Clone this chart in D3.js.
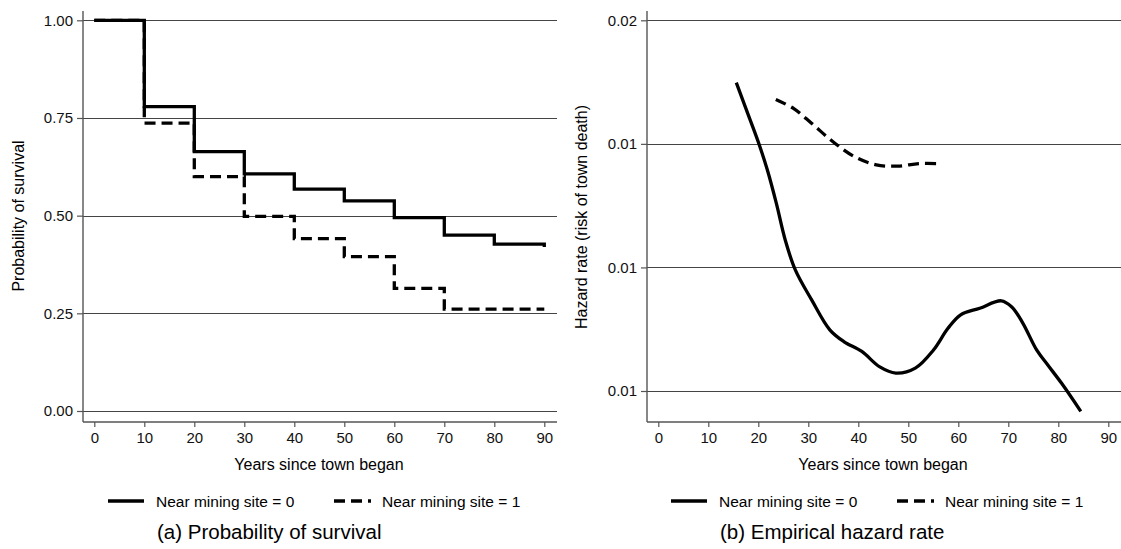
<!DOCTYPE html>
<html>
<head>
<meta charset="utf-8">
<script src="https://cdn.jsdelivr.net/npm/d3@7"></script>
<style>
  body { margin: 0; background: #fff; }
  svg { display: block; font-family: "Liberation Sans", Arial, sans-serif; }
  .grid { stroke: #444; stroke-width: 1; }
  .axisline { stroke: #555; stroke-width: 1.4; }
  .tick line { stroke: #555; stroke-width: 1.2; }
  .tick text { font-size: 15px; fill: #111; }
</style>
</head>
<body>
<div id="chart"></div>
<script>
// tick labels
var yearTicks = [0, 10, 20, 30, 40, 50, 60, 70, 80, 90]
var survTicks = [0, 0.25, 0.5, 0.75, 1]
var hazTicks = [0.010, 0.012, 0.014, 0.016]

// (a) Kaplan-Meier survival, by group
var survTime0 = [0, 10, 20, 30, 40, 50, 60, 70, 80, 90]
var survProb0 = [1.00, 0.779, 0.664, 0.607, 0.568, 0.538, 0.495, 0.450, 0.427, 0.420]
var survTime1 = [0, 10, 20, 30, 40, 50, 60, 70, 90]
var survProb1 = [1.00, 0.737, 0.600, 0.498, 0.441, 0.395, 0.314, 0.261, 0.261]

// (b) smoothed hazard, by group
var hazTime0 = [15.6, 17.9, 20.0, 21.8, 23.6, 25.4, 27.4, 30.7, 34.3, 37.1, 40.7, 44.3, 47.5,
                51.4, 55.0, 57.9, 60.4, 64.3, 68.6, 70.7, 72.9, 75.7, 77.9, 80.7, 84.5]
var hazRate0 = [0.01499, 0.01449, 0.01403, 0.01358, 0.01304, 0.01244, 0.01196, 0.01147, 0.01099,
                0.01080, 0.01064, 0.01039, 0.01029, 0.01037, 0.01066, 0.01101, 0.01123, 0.01134,
                0.01146, 0.01136, 0.01110, 0.01066, 0.01042, 0.01012, 0.00967]
var hazTime1 = [23.5, 27.1, 30.7, 35.0, 39.3, 43.6, 47.9, 52.1, 56.1]
var hazRate1 = [0.01472, 0.01457, 0.01433, 0.01403, 0.01379, 0.01366, 0.01364, 0.01368, 0.01368]

var legendLabels = ['Near mining site = 0', 'Near mining site = 1']

var W = 1121, H = 549
var svg = d3.select('#chart').append('svg').attr('width', W).attr('height', H)

function zip(a, b){ return a.map(function(d, i){ return [d, b[i]] }) }

function panel(o){
  var g = svg.append('g')
  var x = d3.scaleLinear().domain([0, 90]).range(o.xr)
  var y = d3.scaleLinear().domain(o.ydom).range(o.yr)

  // gridlines
  g.selectAll('line.grid').data(o.yticks).join('line')
    .attr('class', 'grid')
    .attr('x1', o.left).attr('x2', o.right)
    .attr('y1', function(d){ return Math.round(y(d)) + 0.5 })
    .attr('y2', function(d){ return Math.round(y(d)) + 0.5 })

  var ya = g.append('g').attr('transform', 'translate(' + o.left + ',0)')
    .call(d3.axisLeft(y).tickValues(o.yticks).tickFormat(o.yfmt).tickSize(6).tickPadding(4))
  ya.select('.domain').remove()

  var xa = g.append('g').attr('transform', 'translate(0,' + o.bottom + ')')
    .call(d3.axisBottom(x).tickValues(yearTicks).tickSize(5).tickPadding(5))
  xa.select('.domain').remove()

  g.append('line').attr('class', 'axisline')
    .attr('x1', o.left).attr('x2', o.left).attr('y1', o.top).attr('y2', o.bottom)
  g.append('line').attr('class', 'axisline')
    .attr('x1', o.left).attr('x2', o.right).attr('y1', o.bottom).attr('y2', o.bottom)

  var line = d3.line().x(function(d){ return x(d[0]) }).y(function(d){ return y(d[1]) }).curve(o.curve)

  g.append('path').attr('d', line(o.s0))
    .attr('fill', 'none').attr('stroke', '#000').attr('stroke-width', 3.3)
    .attr('stroke-linejoin', 'miter').attr('stroke-linecap', 'butt')
  g.append('path').attr('d', line(o.s1))
    .attr('fill', 'none').attr('stroke', '#000').attr('stroke-width', 3.3)
    .attr('stroke-dasharray', '11,6')

  // titles
  g.append('text').attr('x', o.xtitleX).attr('y', 470)
    .attr('text-anchor', 'middle').style('font-size', '16px').text('Years since town began')
  g.append('text')
    .attr('transform', 'translate(' + o.ytitleX + ',' + o.ytitleY + ') rotate(-90)')
    .attr('text-anchor', 'middle').style('font-size', '16px').text(o.ytitle)

  // legend
  var lg = g.append('g').attr('transform', 'translate(' + o.legX + ',501)')
  lg.append('line').attr('x1', 0).attr('x2', 36).attr('stroke', '#000').attr('stroke-width', 3.5)
  lg.append('text').attr('x', 48).attr('y', 6).style('font-size', '15.5px').text(legendLabels[0])
  lg.append('line').attr('x1', 226).attr('x2', 263).attr('stroke', '#000').attr('stroke-width', 3.5)
    .attr('stroke-dasharray', '11,6')
  lg.append('text').attr('x', 274).attr('y', 6).style('font-size', '15.5px').text(legendLabels[1])

  g.append('text').attr('x', o.legX + 49).attr('y', 539)
    .style('font-size', '20.5px').text(o.caption)
}

panel({
  left: 83, right: 557, top: 11, bottom: 422,
  xr: [94.3, 544.3], ydom: [0, 1], yr: [411, 20.3],
  yticks: survTicks, yfmt: d3.format('.2f'),
  curve: d3.curveStepAfter,
  s0: zip(survTime0, survProb0), s1: zip(survTime1, survProb1),
  xtitleX: 319, ytitleX: 23.5, ytitleY: 216, ytitle: 'Probability of survival',
  legX: 108, caption: '(a) Probability of survival'
})

panel({
  left: 647, right: 1121, top: 11, bottom: 422,
  xr: [658.3, 1108.3], ydom: [0.010, 0.016], yr: [391, 20.3],
  yticks: hazTicks, yfmt: d3.format('.2f'),
  curve: d3.curveCatmullRom.alpha(0.5),
  s0: zip(hazTime0, hazRate0), s1: zip(hazTime1, hazRate1),
  xtitleX: 883, ytitleX: 586.5, ytitleY: 217, ytitle: 'Hazard rate (risk of town death)',
  legX: 671, caption: '(b) Empirical hazard rate'
})
</script>
</body>
</html>
